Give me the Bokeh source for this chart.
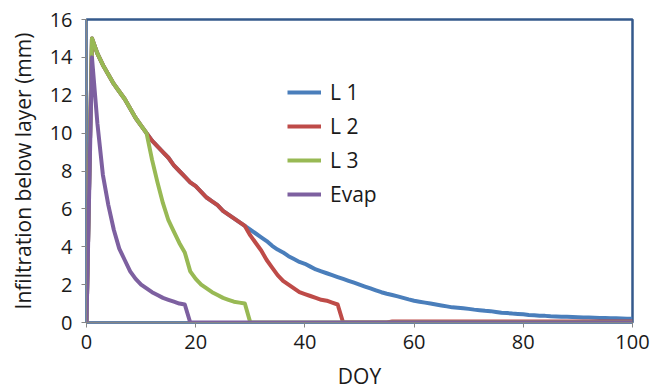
from bokeh.plotting import figure
from bokeh.models import Range1d, Legend, LegendItem, FixedTicker
from bokeh.embed import file_html
from bokeh.resources import INLINE

# ---- data ----
days = list(range(0, 101))

shared = [0, 15.0, 14.2, 13.6, 13.1, 12.6, 12.2, 11.8, 11.3, 10.8, 10.4, 10.0]

l2_tail = [9.6, 9.3, 9.0, 8.7, 8.3, 8.0, 7.7, 7.4, 7.2, 6.9, 6.6, 6.4, 6.2, 5.9, 5.7,
           5.5, 5.3, 5.1]  # days 12..29
l2_after = [4.6, 4.2, 3.8, 3.3, 2.9, 2.5, 2.2, 2.0, 1.8, 1.6, 1.5, 1.4, 1.3, 1.2,
            1.15, 1.05, 0.95, 0.0, 0, 0, 0, 0, 0, 0, 0, 0]  # days 30..55
l2_late = [0.05] * 45  # days 56..100

l1_after = [4.9, 4.7, 4.5, 4.3, 4.05, 3.85, 3.7, 3.5, 3.35, 3.2, 3.1, 2.95, 2.8, 2.7,
            2.6, 2.5, 2.4, 2.3, 2.2, 2.1, 2.0, 1.9, 1.8, 1.7, 1.6, 1.52, 1.45, 1.38,
            1.3, 1.22, 1.15, 1.1, 1.05, 1.0, 0.95, 0.9, 0.85, 0.8, 0.78, 0.75, 0.72,
            0.68, 0.65, 0.62, 0.6, 0.56, 0.52, 0.5, 0.47, 0.45, 0.43, 0.4, 0.38,
            0.36, 0.35, 0.33, 0.32, 0.31, 0.3, 0.29, 0.28, 0.27, 0.26, 0.25, 0.24,
            0.24, 0.23, 0.22, 0.21, 0.2, 0.2]  # days 30..100

l3_tail = [8.6, 7.4, 6.3, 5.4, 4.8, 4.2, 3.7, 2.7, 2.3, 2.0, 1.8, 1.6, 1.45, 1.3,
           1.2, 1.1, 1.05, 1.0]  # days 12..29
l3_zero = [0.0] * 71  # days 30..100

evap = [0, 14.0, 10.5, 7.8, 6.2, 4.9, 3.9, 3.3, 2.7, 2.3, 2.0, 1.8, 1.6, 1.45, 1.3,
        1.2, 1.1, 1.0, 0.95] + [0.0] * 82  # days 0..100

L1 = shared + l2_tail + l1_after
L2 = shared + l2_tail + l2_after + l2_late
L3 = shared + l3_tail + l3_zero

names = ["L 1", "L 2", "L 3", "Evap"]
colors = ["#4A7EBB", "#BE4B48", "#98B954", "#7D60A0"]
series = [L1, L2, L3, evap]

x_ticks = [0, 20, 40, 60, 80, 100]
y_ticks = [0, 2, 4, 6, 8, 10, 12, 14, 16]

FONT = "Open Sans"

p = figure(width=662, height=392, output_backend="svg", toolbar_location=None,
           x_range=Range1d(0, 100), y_range=Range1d(0, 16),
           min_border_left=86, min_border_right=30, min_border_top=19,
           min_border_bottom=69)
p.background_fill_color = "white"
p.border_fill_color = "white"
p.xgrid.visible = False
p.ygrid.visible = False
p.outline_line_color = "#34598C"
p.outline_line_width = 2.5

renderers = []
for name, col, ys in zip(names, colors, series):
    r = p.line(days, ys, line_color=col, line_width=4, line_join="round")
    renderers.append(r)

for ax in (p.xaxis[0], p.yaxis[0]):
    ax.axis_line_color = "#868686"
    ax.major_tick_line_color = "#868686"
    ax.minor_tick_line_color = None
    ax.major_tick_in = 0
    ax.major_tick_out = 5
    ax.major_label_text_font = FONT
    ax.major_label_text_font_size = "20px"
    ax.major_label_text_color = "#1a1a1a"
    ax.axis_label_text_font = FONT
    ax.axis_label_text_font_size = "21px"
    ax.axis_label_text_font_style = "normal"
    ax.axis_label_text_color = "#1a1a1a"

p.xaxis[0].ticker = FixedTicker(ticks=x_ticks)
p.yaxis[0].ticker = FixedTicker(ticks=y_ticks)
p.xaxis[0].axis_label = "DOY"
p.yaxis[0].axis_label = "Infiltration below layer (mm)"
p.xaxis[0].major_label_standoff = 7
p.yaxis[0].major_label_standoff = 9
p.xaxis[0].axis_label_standoff = 10
p.yaxis[0].axis_label_standoff = 10

legend = Legend(items=[LegendItem(label=n, renderers=[r]) for n, r in zip(names, renderers)],
                location=(201, 114))
legend.border_line_color = None
legend.background_fill_alpha = 0
legend.label_text_font = FONT
legend.label_text_font_size = "21px"
legend.label_text_color = "#1a1a1a"
legend.glyph_width = 34
legend.glyph_height = 20
legend.label_height = 20
legend.spacing = 6
legend.padding = 5
legend.margin = 0
legend.label_standoff = 9
p.add_layout(legend)

open("out.html", "w").write(file_html(p, INLINE))
